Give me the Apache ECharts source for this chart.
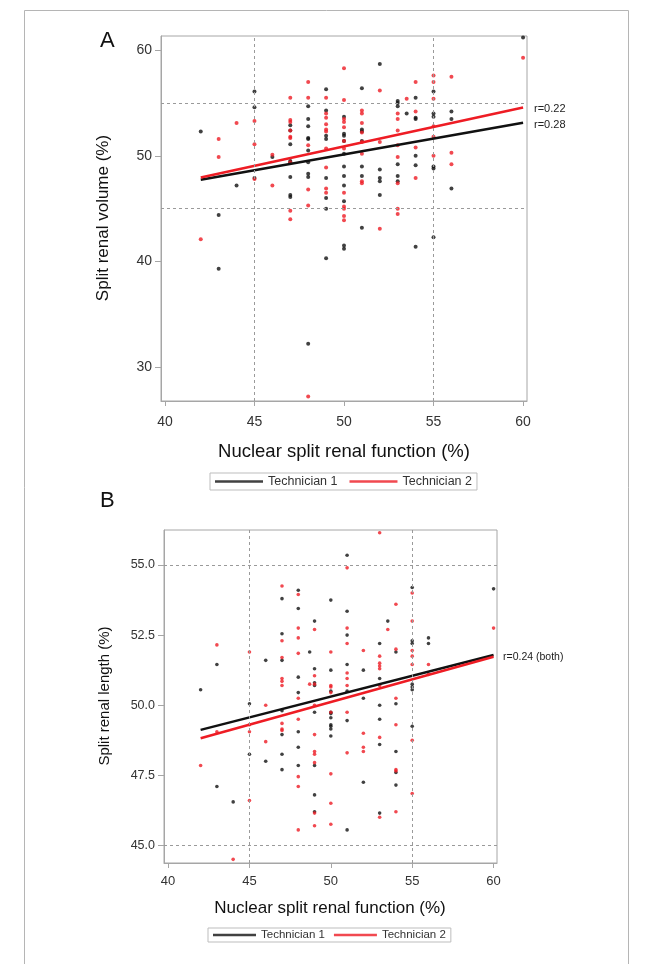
<!DOCTYPE html>
<html>
<head>
<meta charset="utf-8">
<script src="https://cdn.jsdelivr.net/npm/echarts@6/dist/echarts.min.js"></script>
<style>
html,body{margin:0;padding:0;background:#fff;}
#chart{width:647px;height:964px;}
</style>
</head>
<body>
<div id="chart"></div>
<script>
// ---------- DATA ----------
// Panel A: nuclear split renal function (%) vs split renal volume (%)
const volumeTech1 = [
  [42,52.3],[43,44.4],[43,39.3],[44,47.2],[45,56.1],[45,54.6],[45,47.9],[46,49.9],
  [47,52.9],[47,52.4],[47,51.1],[47,49.5],[47,49.4],[47,48.0],[47,46.3],[47,46.1],
  [48,54.7],[48,53.5],[48,52.8],[48,51.7],[48,51.6],[48,50.5],[48,49.4],[48,48.3],[48,48.0],[48,32.2],
  [49,56.3],[49,54.3],[49,51.9],[49,51.6],[49,47.9],[49,46.0],[49,45.0],[49,40.3],
  [50,53.7],[50,52.1],[50,51.9],[50,51.4],[50,50.2],[50,49.0],[50,48.1],[50,47.2],[50,45.7],[50,41.5],[50,41.2],
  [51,56.4],[51,52.5],[51,52.3],[51,51.4],[51,49.0],[51,48.1],[51,43.2],
  [52,58.7],[52,48.7],[52,47.9],[52,47.6],[52,46.3],
  [53,55.2],[53,55.0],[53,54.7],[53,49.2],[53,48.1],[53,47.6],[53.5,54.0],
  [54,55.5],[54,53.6],[54,53.5],[54,50.0],[54,49.1],[54,41.4],
  [55,56.1],[55,54.0],[55,53.7],[55,49.0],[55,48.8],[55,42.3],
  [56,54.2],[56,53.5],[56,46.9],[60,61.2]
];
const volumeTech2 = [
  [42,42.1],[43,51.6],[43,49.9],[44,53.1],[45,53.3],[45,51.1],[45,47.8],[46,50.1],[46,47.2],
  [47,55.5],[47,53.4],[47,53.2],[47,52.4],[47,51.8],[47,51.7],[47,49.4],[47,44.8],[47,44.0],
  [48,57.0],[48,55.5],[48,51.0],[48,46.8],[48,45.3],[48,27.2],
  [49,55.5],[49,54.0],[49,53.6],[49,53.0],[49,52.5],[49,52.3],[49,50.7],[49,48.9],[49,46.9],[49,46.5],
  [50,58.3],[50,55.3],[50,53.5],[50,53.2],[50,52.7],[50,51.4],[50,50.7],[50,46.5],[50,45.2],[50,45.0],[50,44.3],[50,43.9],
  [51,54.3],[51,54.0],[51,53.1],[51,52.2],[51,51.3],[51,50.2],[51,47.6],[51,47.4],
  [52,56.2],[52,51.3],[52,43.1],
  [53,54.0],[53,53.5],[53,52.4],[53,51.0],[53,49.9],[53,47.4],[53,45.0],[53,44.5],[53.5,55.4],
  [54,57.0],[54,54.2],[54,50.8],[54,47.9],
  [55,57.6],[55,57.0],[55,55.4],[55,52.8],[55,51.8],[55,50.0],
  [56,57.5],[56,50.3],[56,49.2],[60,59.3]
];
// Panel B: nuclear split renal function (%) vs split renal length (%)
const lengthTech1 = [
  [42,50.55],[43,51.45],[43,47.1],[44,46.55],[45,50.05],[45,48.25],[46,51.6],[46,48.0],
  [47,53.8],[47,52.55],[47,51.6],[47,49.8],[47,48.95],[47,48.25],[47,47.7],
  [48,54.1],[48,53.45],[48,51.0],[48,50.45],[48,49.05],[48,48.5],[48,47.85],[48.7,51.9],
  [49,53.0],[49,51.3],[49,50.8],[49,50.7],[49,49.75],[49,47.85],[49,46.8],[49,46.2],
  [50,53.75],[50,51.25],[50,50.5],[50,49.75],[50,49.7],[50,49.55],[50,49.3],[50,49.25],[50,49.15],[50,48.9],
  [51,55.35],[51,53.35],[51,52.5],[51,51.45],[51,50.5],[51,49.45],[51,45.55],
  [52,51.25],[52,50.25],[52,47.25],
  [53,52.2],[53,50.95],[53,50.0],[53,49.5],[53,48.6],[53,46.15],[53.5,53.0],
  [54,51.9],[54,50.05],[54,48.35],[54,47.6],[54,47.15],
  [55,54.2],[55,52.3],[55,52.2],[55,50.75],[55,50.65],[55,50.55],[55,49.25],
  [56,52.4],[56,52.2],[60,54.15]
];
const lengthTech2 = [
  [42,47.85],[43,52.15],[43,49.05],[44,44.5],[45,51.9],[45,49.3],[45,49.05],[45,46.6],[46,50.0],[46,48.7],
  [47,54.25],[47,52.3],[47,51.7],[47,50.95],[47,50.85],[47,50.7],[47,49.35],[47,49.15],[47,49.1],
  [48,53.95],[48,52.75],[48,52.4],[48,51.85],[48,50.25],[48,49.5],[48,47.45],[48,47.1],[48,45.55],[48.7,50.75],
  [49,52.7],[49,51.05],[49,50.75],[49,50.0],[49,48.95],[49,48.35],[49,48.25],[49,47.95],[49,46.15],[49,45.7],
  [50,51.9],[50,50.7],[50,50.65],[50,50.45],[50,49.75],[50,47.55],[50,46.5],[50,45.75],
  [51,54.9],[51,52.75],[51,52.2],[51,51.15],[51,50.95],[51,50.7],[51,49.75],[51,48.3],
  [52,51.95],[52,49.0],[52,48.5],[52,48.35],
  [53,56.15],[53,51.75],[53,51.5],[53,51.4],[53,51.3],[53,50.7],[53,48.85],[53,46.0],[53.5,52.7],
  [54,53.6],[54,52.0],[54,50.25],[54,49.3],[54,47.7],[54,47.65],[54,46.2],
  [55,54.0],[55,53.0],[55,51.95],[55,51.75],[55,51.45],[55,48.75],[55,46.85],
  [56,51.45],[56,51.1],[60,52.75]
];
// Regression lines (endpoints at x = 42 and x = 60)
const fitX = [42, 60];
const fitVolumeTech1 = [47.73, 53.13];
const fitVolumeTech2 = [47.95, 54.58];
const fitLengthTech1 = [49.12, 51.79];
const fitLengthTech2 = [48.82, 51.73];
// Reference lines and ticks
const refX = [45, 55];
const refVolumeY = [45, 55];
const refLengthY = [45, 55];
const xTicks = [40, 45, 50, 55, 60];
const volumeTicks = [30, 40, 50, 60];
const lengthTicks = [45, 47.5, 50, 52.5, 55];
const seriesNames = ['Technician 1', 'Technician 2'];
const rLabelsA = ['r=0.22', 'r=0.28'];
const rLabelB = 'r=0.24 (both)';

// ---------- STYLE ----------
const FONT = 'Liberation Sans, Arial, Helvetica, sans-serif';
const BLACK = '#111111';
const RED = '#ee1c24';
const GRAYAX = '#a6a6a6';

function pairs(xs, ys){ return xs.map((x,i)=>[x, ys[i]]); }

function refMarks(xs, ys){
  return {
    silent: true, symbol: 'none', label: {show:false},
    lineStyle: {color:'#9a9a9a', type:[3,3], width:1},
    data: xs.map(v=>({xAxis:v})).concat(ys.map(v=>({yAxis:v})))
  };
}

function xAxisCfg(gi, min, max, fs, margin){
  return {
    type:'value', gridIndex:gi, min:min, max:max,
    splitLine:{show:false},
    axisLine:{show:true, lineStyle:{color:GRAYAX}},
    axisTick:{show:true, length:5, customValues:xTicks, lineStyle:{color:GRAYAX}},
    axisLabel:{customValues:xTicks, color:'#333', fontSize:fs, fontFamily:FONT, margin:margin},
  };
}
function yAxisCfg(gi, min, max, ticks, fs, fmt){
  return {
    type:'value', gridIndex:gi, min:min, max:max,
    splitLine:{show:false},
    axisLine:{show:true, lineStyle:{color:GRAYAX}},
    axisTick:{show:true, length:6, customValues:ticks, lineStyle:{color:GRAYAX}},
    axisLabel:{customValues:ticks, color:'#333', fontSize:fs, fontFamily:FONT, margin:9, formatter:fmt},
  };
}

const chart = echarts.init(document.getElementById('chart'), null, {renderer:'canvas'});

const option = {
  animation:false,
  backgroundColor:'#ffffff',
  grid:[
    {left:161, top:36, width:366, height:365, show:true, borderColor:GRAYAX, borderWidth:1, backgroundColor:'transparent'},
    {left:164, top:530, width:333, height:333, show:true, borderColor:GRAYAX, borderWidth:1, backgroundColor:'transparent'}
  ],
  xAxis:[
    xAxisCfg(0, 39.78, 60.22, 14, 14),
    xAxisCfg(1, 39.75, 60.21, 13, 12)
  ],
  yAxis:[
    yAxisCfg(0, 26.78, 61.35, volumeTicks, 14, v=>String(v)),
    yAxisCfg(1, 44.37, 56.25, lengthTicks, 12.5, v=>v.toFixed(1))
  ],
  legend:[
    {data:seriesNames, left:210, top:473, orient:'horizontal', icon:'rect', itemWidth:48, itemHeight:2.5,
     itemGap:12, padding:[2,5,2,5], borderColor:'#bdbdbd', borderWidth:1,
     textStyle:{fontSize:12.5, color:'#333', fontFamily:FONT}, selectedMode:false},
    {data:seriesNames, left:208, top:928, orient:'horizontal', icon:'rect', itemWidth:43, itemHeight:2.5,
     itemGap:9, padding:[1,5,1,5], borderColor:'#bdbdbd', borderWidth:1,
     textStyle:{fontSize:11.5, color:'#333', fontFamily:FONT}, selectedMode:false}
  ],
  series:[
    {name:seriesNames[0], type:'scatter', xAxisIndex:0, yAxisIndex:0, data:volumeTech1, symbolSize:4,
     itemStyle:{color:BLACK}, markLine:refMarks(refX, refVolumeY), z:3},
    {name:seriesNames[1], type:'scatter', xAxisIndex:0, yAxisIndex:0, data:volumeTech2, symbolSize:4,
     itemStyle:{color:RED}, z:3},
    {name:seriesNames[0], type:'line', xAxisIndex:0, yAxisIndex:0, data:pairs(fitX, fitVolumeTech1),
     symbol:'none', lineStyle:{color:BLACK, width:2.5}, itemStyle:{color:BLACK}, z:4},
    {name:seriesNames[1], type:'line', xAxisIndex:0, yAxisIndex:0, data:pairs(fitX, fitVolumeTech2),
     symbol:'none', lineStyle:{color:RED, width:2.5}, itemStyle:{color:RED}, z:4},

    {name:seriesNames[0], type:'scatter', xAxisIndex:1, yAxisIndex:1, data:lengthTech1, symbolSize:3.6,
     itemStyle:{color:BLACK}, markLine:refMarks(refX, refLengthY), z:3},
    {name:seriesNames[1], type:'scatter', xAxisIndex:1, yAxisIndex:1, data:lengthTech2, symbolSize:3.6,
     itemStyle:{color:RED}, z:3},
    {name:seriesNames[0], type:'line', xAxisIndex:1, yAxisIndex:1, data:pairs(fitX, fitLengthTech1),
     symbol:'none', lineStyle:{color:BLACK, width:2.5}, itemStyle:{color:BLACK}, z:4},
    {name:seriesNames[1], type:'line', xAxisIndex:1, yAxisIndex:1, data:pairs(fitX, fitLengthTech2),
     symbol:'none', lineStyle:{color:RED, width:2.5}, itemStyle:{color:RED}, z:4}
  ],
  graphic:[
    {type:'rect', left:22, top:8, shape:{width:604, height:970}, style:{fill:'none', stroke:'#b5b5b5', lineWidth:1}, silent:true, z:-1},
    {type:'text', left:100, top:30, style:{text:'A', fontSize:22, fontFamily:FONT, fill:'#111'}},
    {type:'text', left:100, top:490, style:{text:'B', fontSize:22, fontFamily:FONT, fill:'#111'}},
    {type:'text', x:103, y:218, rotation:Math.PI/2, style:{text:'Split renal volume (%)', fontSize:17, fontFamily:FONT, fill:'#111', align:'center', verticalAlign:'middle'}},
    {type:'text', x:344, y:452, style:{text:'Nuclear split renal function (%)', fontSize:18.5, fontFamily:FONT, fill:'#111', align:'center', verticalAlign:'middle'}},
    {type:'text', x:105, y:696, rotation:Math.PI/2, style:{text:'Split renal length (%)', fontSize:15, fontFamily:FONT, fill:'#111', align:'center', verticalAlign:'middle'}},
    {type:'text', x:330, y:908, style:{text:'Nuclear split renal function (%)', fontSize:17, fontFamily:FONT, fill:'#111', align:'center', verticalAlign:'middle'}},
    {type:'text', x:534, y:109, style:{text:rLabelsA[0], fontSize:11, fontFamily:FONT, fill:'#222', verticalAlign:'middle'}},
    {type:'text', x:534, y:125, style:{text:rLabelsA[1], fontSize:11, fontFamily:FONT, fill:'#222', verticalAlign:'middle'}},
    {type:'text', x:503, y:657, style:{text:rLabelB, fontSize:10.5, fontFamily:FONT, fill:'#222', verticalAlign:'middle'}}
  ]
};
chart.setOption(option);
</script>
</body>
</html>
